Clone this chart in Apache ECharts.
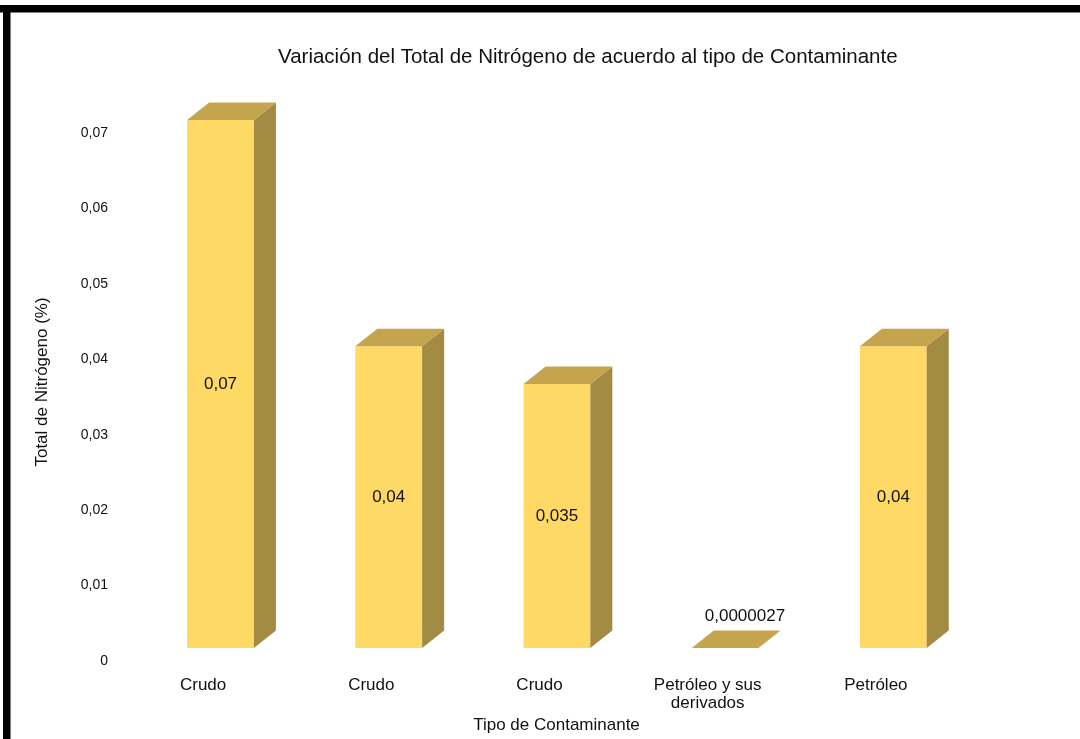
<!DOCTYPE html>
<html>
<head>
<meta charset="utf-8">
<script src="https://cdn.jsdelivr.net/npm/echarts@6/dist/echarts.min.js"></script>
<style>
html,body{margin:0;padding:0;background:#fff;}
#c{width:1080px;height:739px;}
</style>
</head>
<body>
<div id="c"></div>
<script>
const categories = ['Crudo', 'Crudo', 'Crudo', 'Petróleo y sus\nderivados', 'Petróleo'];
const values = [0.07, 0.04, 0.035, 0.0000027, 0.04];
const yTicks = { min: 0, max: 0.07, interval: 0.01 };
const titleText = 'Variación del Total de Nitrógeno de acuerdo al tipo de Contaminante';
const yName = 'Total de Nitrógeno (%)';
const xName = 'Tipo de Contaminante';

const FRONT = '#FFD966', TOP = '#C4A54E', SIDE = '#A48B44';
const FONT = 'Liberation Sans, Arial, sans-serif';
const fmt = v => String(v).replace('.', ',');

const chart = echarts.init(document.getElementById('c'), null, { renderer: 'canvas' });

function renderItem(params, api) {
  const band = api.size([1, 0])[0];
  const pt = api.coord([api.value(0), api.value(1)]);
  const base = api.coord([api.value(0), 0]);
  const shiftY = -13;
  const left = pt[0] - band * 0.095;
  const w = band * 0.397;
  const right = left + w;
  const top = pt[1] + shiftY;
  const bottom = base[1] + shiftY;
  const dx = band * 0.131, dy = -17.5;
  const h = bottom - top;
  const children = [];
  if (h > 0.5) {
    children.push({ type: 'rect', shape: { x: left, y: top, width: w, height: h }, style: { fill: FRONT } });
    children.push({ type: 'polygon', shape: { points: [[right, top], [right + dx, top + dy], [right + dx, bottom + dy], [right, bottom]] }, style: { fill: SIDE } });
  }
  children.push({ type: 'polygon', shape: { points: [[left, top], [right, top], [right + dx, top + dy], [left + dx, top + dy]] }, style: { fill: TOP } });
  const label = fmt(api.value(1));
  let lx, ly;
  if (h > 30) { lx = left + w / 2; ly = top + h / 2; }
  else { lx = left + w / 2 + dx * 0.9; ly = top + dy - 14; }
  children.push({ type: 'text', x: lx, y: ly, style: { text: label, fill: '#111', font: '17px ' + FONT, align: 'center', verticalAlign: 'middle' } });
  return { type: 'group', children };
}

chart.setOption({
  animation: false,
  backgroundColor: '#fff',
  title: {
    text: titleText, left: 273, top: 42,
    textStyle: { fontFamily: FONT, fontSize: 20.5, fontWeight: 'normal', color: '#111' }
  },
  grid: { left: 119, right: 120, top: 133, bottom: 78, outerBoundsMode: 'none', containLabel: false },
  xAxis: {
    type: 'category', data: categories,
    axisLine: { show: false }, axisTick: { show: false },
    axisLabel: { margin: 15, fontFamily: FONT, fontSize: 17, color: '#111', lineHeight: 18, interval: 0 },
    name: xName, nameLocation: 'middle', nameGap: 46,
    nameTextStyle: { fontFamily: FONT, fontSize: 17, color: '#111', padding: [0, 0, 0, 34] }
  },
  yAxis: {
    type: 'value', min: yTicks.min, max: yTicks.max, interval: yTicks.interval,
    axisLine: { show: false }, axisTick: { show: false }, splitLine: { show: false },
    axisLabel: { margin: 11, fontFamily: FONT, fontSize: 14, color: '#111',
      formatter: v => v === 0 ? '0' : v.toFixed(2).replace('.', ',') },
    name: yName, nameLocation: 'middle', nameGap: 68,
    nameTextStyle: { fontFamily: FONT, fontSize: 17, color: '#111', padding: [0, 0, 0, 30] }
  },
  series: [{
    type: 'custom', renderItem,
    data: values.map((v, i) => [i, v]),
    clip: false
  }],
  graphic: [
    { type: 'rect', shape: { x: 0, y: 5, width: 1080, height: 7.5 }, style: { fill: '#000' } },
    { type: 'rect', shape: { x: 3, y: 5, width: 7.5, height: 734 }, style: { fill: '#000' } }
  ]
});
</script>
</body>
</html>
